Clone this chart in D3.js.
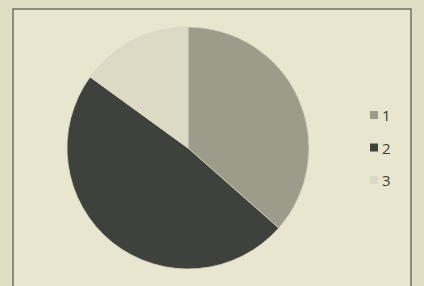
<!DOCTYPE html>
<html>
<head>
<meta charset="utf-8">
<script src="https://cdn.jsdelivr.net/npm/d3@7"></script>
<style>
  html, body { margin: 0; padding: 0; background: #e2e0c8; }
  svg { display: block; }
</style>
</head>
<body>
<div id="chart"></div>
<script>
// ── Data ──
const categories = ['1', '2', '3'];
const values = [36.5, 48.5, 15];
const sliceColors = ['#9d9b8a', '#3f423c', '#dcd9c4'];

const W = 424, H = 286;
const svg = d3.select('#chart').append('svg').attr('width', W).attr('height', H);

// page / chart area
svg.append('rect').attr('width', W).attr('height', H).attr('fill', '#dfddc3');
svg.append('rect')
  .attr('x', 13).attr('y', 9).attr('width', 398).attr('height', 290)
  .attr('fill', '#e8e6ce').attr('stroke', '#55554c').attr('stroke-width', 1.2);

const cx = 188, cy = 148, r = 121;

const pie = d3.pie().sort(null).value(d => d);
const arc = d3.arc().innerRadius(0).outerRadius(r);

const g = svg.append('g').attr('transform', `translate(${cx},${cy})`);
g.selectAll('path.slice')
  .data(pie(values))
  .join('path')
  .attr('class', 'slice')
  .attr('d', arc)
  .attr('fill', (d, i) => sliceColors[i])
  .attr('stroke', '#d8d6c0').attr('stroke-width', 0.8);

// ── Legend ──
const legendY = d3.scalePoint().domain(categories).range([115, 180]);
const legend = svg.append('g');
const item = legend.selectAll('g')
  .data(categories)
  .join('g')
  .attr('transform', d => `translate(370,${legendY(d)})`);
item.append('rect')
  .attr('x', 0).attr('y', -4).attr('width', 8).attr('height', 8)
  .attr('fill', (d, i) => sliceColors[i]);
item.append('text')
  .attr('x', 12).attr('y', 6)
  .attr('font-family', 'Open Sans, Liberation Sans, sans-serif')
  .attr('font-size', 15)
  .attr('fill', '#3c3c34')
  .text(d => d);
</script>
</body>
</html>
